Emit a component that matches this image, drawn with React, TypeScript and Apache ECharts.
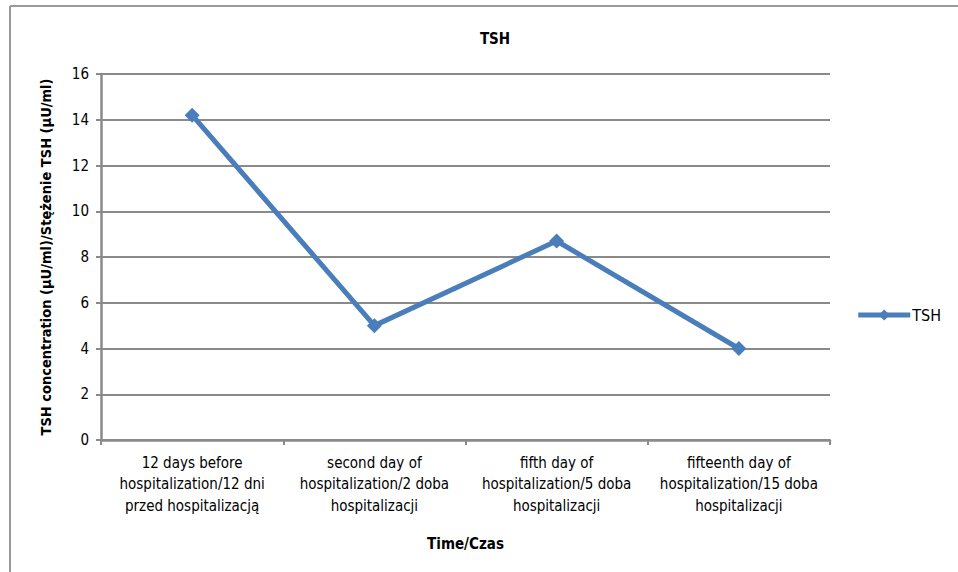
import React, { useEffect, useRef } from "react";
import * as echarts from "echarts";

const categories = [
  "12 days before\nhospitalization/12 dni\nprzed hospitalizacją",
  "second day of\nhospitalization/2 doba\nhospitalizacji",
  "fifth day of\nhospitalization/5 doba\nhospitalizacji",
  "fifteenth day of\nhospitalization/15 doba\nhospitalizacji",
];
const tshValues = [14.2, 5.0, 8.7, 4.0];
const seriesName = "TSH";
const chartTitle = "TSH";
const xAxisTitle = "Time/Czas";
const yAxisTitle = "TSH concentration (µU/ml)/Stężenie TSH (µU/ml)";

const FONT = "'DejaVu Sans Condensed', 'Liberation Sans', Arial, sans-serif";
const GRAY = "#8a8a8a";
const BLUE = "#4a7ebb";

export default function App() {
  const ref = useRef<HTMLDivElement>(null);
  useEffect(() => {
    if (!ref.current) return;
    const chart = echarts.init(ref.current, undefined, { renderer: "svg" });
    chart.setOption({
      animation: false,
      backgroundColor: "#ffffff",
      title: {
        text: chartTitle,
        left: 490,
        top: 26,
        textAlign: "center",
        textStyle: { fontFamily: FONT, fontSize: 15, fontWeight: "bold", color: "#000" },
      },
      legend: {
        data: [seriesName],
        right: 12,
        top: 302,
        itemWidth: 52,
        itemHeight: 14,
        itemGap: 2,
        lineStyle: { width: 5, color: BLUE },
        textStyle: { fontFamily: FONT, fontSize: 16, color: "#000", padding: [0, 0, 0, -3] },
      },
      graphic: [
        { type: "line", shape: { x1: 10, y1: 6, x2: 10, y2: 572 }, style: { stroke: "#999", lineWidth: 2 } },
        { type: "line", shape: { x1: 10, y1: 6, x2: 958, y2: 6 }, style: { stroke: "#999", lineWidth: 2 } },
      ],
      grid: { left: 101, top: 74, width: 729, height: 366, containLabel: false },
      xAxis: {
        type: "category",
        data: categories,
        boundaryGap: true,
        name: xAxisTitle,
        nameLocation: "middle",
        nameGap: 96,
        nameTextStyle: { fontFamily: FONT, fontSize: 15, fontWeight: "bold", color: "#000" },
        axisLine: { lineStyle: { color: GRAY, width: 2.5 } },
        axisTick: { show: true, length: 5, lineStyle: { color: GRAY, width: 2 } },
        axisLabel: {
          fontFamily: FONT,
          fontSize: 15,
          color: "#000",
          lineHeight: 21.5,
          margin: 12,
          interval: 0,
        },
      },
      yAxis: {
        type: "value",
        min: 0,
        max: 16,
        interval: 2,
        name: yAxisTitle,
        nameLocation: "middle",
        nameGap: 48,
        nameTextStyle: { fontFamily: FONT, fontSize: 14.5, fontWeight: "bold", color: "#000" },
        axisLine: { show: true, lineStyle: { color: GRAY, width: 2.5 } },
        axisTick: { show: true, length: 5, lineStyle: { color: GRAY, width: 2 } },
        splitLine: { lineStyle: { color: GRAY, width: 2 } },
        axisLabel: { fontFamily: FONT, fontSize: 15, color: "#000", margin: 12 },
      },
      series: [
        {
          name: seriesName,
          type: "line",
          data: tshValues,
          symbol: "diamond",
          symbolSize: 15,
          lineStyle: { color: BLUE, width: 5 },
          itemStyle: { color: BLUE },
        },
      ],
    });
    return () => chart.dispose();
  }, []);
  return <div ref={ref} style={{ width: 958, height: 572, position: "absolute", left: 0, top: 0 }} />;
}
